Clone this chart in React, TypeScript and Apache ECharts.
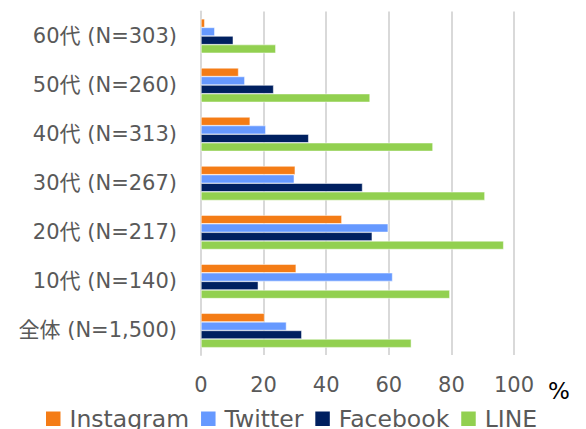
import React, { useEffect, useRef } from "react";
import * as echarts from "echarts";

const categories = [
  "60代 (N=303)",
  "50代 (N=260)",
  "40代 (N=313)",
  "30代 (N=267)",
  "20代 (N=217)",
  "10代 (N=140)",
  "全体 (N=1,500)",
];
const instagram = [1.2, 12.0, 15.7, 30.1, 45.0, 30.4, 20.3];
const twitter = [4.4, 14.0, 20.7, 29.8, 59.8, 61.2, 27.3];
const facebook = [10.3, 23.2, 34.4, 51.6, 54.7, 18.3, 32.2];
const line = [23.9, 54.0, 74.1, 90.7, 96.7, 79.5, 67.2];
const xTicks = { min: 0, max: 100, interval: 20 };

const FONT = "'DejaVu Sans', 'Noto Sans CJK JP', sans-serif";

export default function App() {
  const ref = useRef<HTMLDivElement>(null);
  useEffect(() => {
    if (!ref.current) return;
    const chart = echarts.init(ref.current, undefined, { renderer: "svg" });
    const mk = (name: string, data: number[], color: string) => ({
      name,
      type: "bar",
      data,
      barGap: "0%",
      barCategoryGap: "30%",
      itemStyle: { color, borderColor: "#ffffff", borderWidth: 0.5 },
    });
    chart.setOption({
      animation: false,
      textStyle: { fontFamily: FONT },
      grid: { left: 201, right: 72, top: 11.5, bottom: 74, containLabel: false },
      xAxis: {
        type: "value",
        min: xTicks.min,
        max: xTicks.max,
        interval: xTicks.interval,
        axisLine: { show: false },
        axisTick: { show: false },
        axisLabel: { fontSize: 21, color: "#595959", margin: 19, fontFamily: FONT },
        splitLine: { lineStyle: { color: "#d9d9d9", width: 2 } },
      },
      yAxis: {
        type: "category",
        inverse: true,
        data: categories,
        axisLine: { show: true, lineStyle: { color: "#d9d9d9", width: 2 } },
        axisTick: { show: false },
        axisLabel: {
          fontSize: 21,
          color: "#595959",
          margin: 24,
          fontFamily: FONT,
          padding: [0, 0, 8, 0],
        },
      },
      legend: {
        left: 39,
        top: 402,
        itemWidth: 16.5,
        itemHeight: 16.5,
        itemGap: 10,
        icon: "rect",
        textStyle: { fontSize: 23.5, color: "#595959", fontFamily: FONT, padding: [0, 0, 0, 3] },
        data: ["Instagram", "Twitter", "Facebook", "LINE"],
      },
      graphic: [
        {
          type: "text",
          left: 548,
          top: 379,
          style: { text: "%", fontSize: 23, fill: "#000000", fontFamily: FONT },
        },
      ],
      series: [
        mk("Instagram", instagram, "#F47C16"),
        mk("Twitter", twitter, "#6699FF"),
        mk("Facebook", facebook, "#002060"),
        mk("LINE", line, "#92D050"),
      ],
    });
    return () => chart.dispose();
  }, []);
  return <div ref={ref} style={{ width: 586, height: 429, position: "absolute", left: 0, top: 0 }} />;
}
